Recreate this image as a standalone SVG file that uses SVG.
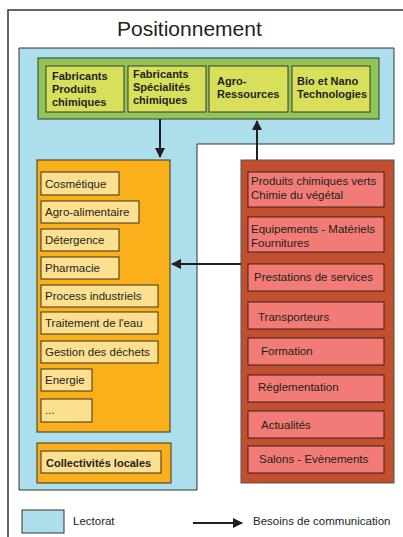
<svg xmlns="http://www.w3.org/2000/svg" width="403" height="537" viewBox="0 0 403 537">
<defs>
<style>
text{font-family:"Liberation Sans",Arial,sans-serif;fill:#231f20}
.b{font-weight:bold;font-size:11px}
.t{font-size:11.5px}
.g{fill:#d8e05b;stroke:#3a3a2a;stroke-width:1}
.y{fill:#fde08f;stroke:#3a3020;stroke-width:1}
.p{fill:#f27b76;stroke:#3a2020;stroke-width:1}
.c{stroke:#231f20;stroke-width:2;fill:none}
</style>
<marker id="ah" viewBox="0 0 10 10" refX="9" refY="5" markerWidth="10" markerHeight="10" markerUnits="userSpaceOnUse" orient="auto">
<path d="M0,0 L10,5 L0,10 z" fill="#231f20"/>
</marker>
</defs>
<rect width="403" height="537" fill="#ffffff"/>
<rect x="8" y="10" width="400" height="540" fill="none" stroke="#333" stroke-width="1.5"/>
<text x="117" y="36" font-size="21">Positionnement</text>
<g id="lectorat">
<path d="M19,48 H394 V144 H197 V490 H19 Z" fill="#acdeec" stroke="#333" stroke-width="1"/>
</g>
<g id="fabricants">
<rect x="38" y="58" width="341" height="61" fill="#8fc657" stroke="#3a3a2a" stroke-width="1"/>
<g id="n1"><rect class="g" x="46" y="66" width="78" height="46"/>
<text class="b" x="52" y="80">Fabricants</text><text class="b" x="52" y="93">Produits</text><text class="b" x="52" y="106">chimiques</text></g>
<g id="n2"><rect class="g" x="128" y="66" width="78" height="46"/>
<text class="b" x="133" y="78">Fabricants</text><text class="b" x="133" y="91">Spécialités</text><text class="b" x="133" y="104">chimiques</text></g>
<g id="n3"><rect class="g" x="209" y="66" width="79" height="46"/>
<text class="b" x="217" y="85">Agro-</text><text class="b" x="217" y="98">Ressources</text></g>
<g id="n4"><rect class="g" x="292" y="66" width="78" height="46"/>
<text class="b" x="297" y="85">Bio et Nano</text><text class="b" x="297" y="98">Technologies</text></g>
</g>
<g id="marches">
<rect x="37" y="160" width="133" height="272" fill="#f9b01b" stroke="#3a3020" stroke-width="1"/>
<g id="m1"><rect class="y" x="41" y="172" width="78" height="23"/><text class="t" x="45" y="188">Cosmétique</text></g>
<g id="m2"><rect class="y" x="41" y="201" width="98" height="22"/><text class="t" x="45" y="216">Agro-alimentaire</text></g>
<g id="m3"><rect class="y" x="41" y="229" width="78" height="22"/><text class="t" x="45" y="244">Détergence</text></g>
<g id="m4"><rect class="y" x="41" y="257" width="78" height="22"/><text class="t" x="45" y="272">Pharmacie</text></g>
<g id="m5"><rect class="y" x="41" y="285" width="117" height="22"/><text class="t" x="45" y="300">Process industriels</text></g>
<g id="m6"><rect class="y" x="41" y="312" width="117" height="22"/><text class="t" x="45" y="327">Traitement de l'eau</text></g>
<g id="m7"><rect class="y" x="41" y="341" width="117" height="22"/><text class="t" x="45" y="356">Gestion des déchets</text></g>
<g id="m8"><rect class="y" x="41" y="369" width="51" height="22"/><text class="t" x="45" y="384">Energie</text></g>
<g id="m9"><rect class="y" x="41" y="399" width="51" height="23"/><text class="t" x="45" y="414" font-size="9">...</text></g>
</g>
<g id="collectivites">
<rect x="37" y="443" width="134" height="40" fill="#f9b01b" stroke="#3a3020" stroke-width="1"/>
<rect class="y" x="41" y="451" width="120" height="22"/>
<text class="b" x="46" y="467">Collectivités locales</text>
</g>
<g id="besoins">
<rect x="241" y="160" width="153" height="323" fill="#c24f2e" stroke="#555" stroke-width="1"/>
<g id="r1"><rect class="p" x="248" y="172" width="136" height="35"/><text class="t" x="251" y="185">Produits chimiques verts</text><text class="t" x="251" y="199">Chimie du végétal</text></g>
<g id="r2"><rect class="p" x="248" y="217" width="136" height="35"/><text class="t" x="251" y="233">Equipements - Matériels</text><text class="t" x="251" y="247">Fournitures</text></g>
<g id="r3"><rect class="p" x="248" y="264" width="136" height="27"/><text class="t" x="254" y="281">Prestations de services</text></g>
<g id="r4"><rect class="p" x="248" y="302" width="136" height="27"/><text class="t" x="258" y="321">Transporteurs</text></g>
<g id="r5"><rect class="p" x="248" y="338" width="136" height="27"/><text class="t" x="261" y="355">Formation</text></g>
<g id="r6"><rect class="p" x="248" y="375" width="136" height="27"/><text class="t" x="258" y="391">Réglementation</text></g>
<g id="r7"><rect class="p" x="248" y="411" width="136" height="27"/><text class="t" x="261" y="429">Actualités</text></g>
<g id="r8"><rect class="p" x="248" y="446" width="136" height="27"/><text class="t" x="259" y="463">Salons - Evènements</text></g>
</g>
<g id="connectors">
<line class="c" x1="160" y1="119" x2="160" y2="157" marker-end="url(#ah)"/>
<line class="c" x1="257" y1="160" x2="257" y2="121" marker-end="url(#ah)"/>
<line class="c" x1="241" y1="264" x2="172" y2="264" marker-end="url(#ah)"/>
</g>
<g id="legend">
<rect x="22" y="510" width="42" height="23" fill="#acdeec" stroke="#333" stroke-width="1"/>
<text class="t" x="73" y="525">Lectorat</text>
<line class="c" x1="193" y1="523" x2="242" y2="523" marker-end="url(#ah)"/>
<text class="t" x="253" y="525">Besoins de communication</text>
</g>
</svg>
